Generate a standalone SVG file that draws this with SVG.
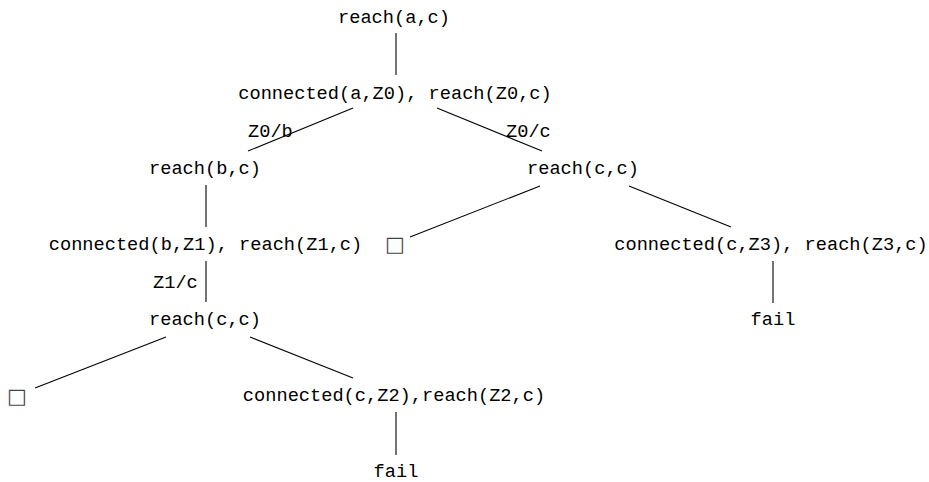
<svg xmlns="http://www.w3.org/2000/svg" width="929" height="482" viewBox="0 0 929 482">
<style>
.t{font-family:"Liberation Mono","DejaVu Sans Mono",monospace;font-size:18.67px;fill:#000;text-anchor:middle}
.l{font-family:"Liberation Mono","DejaVu Sans Mono",monospace;font-size:18.67px;fill:#000}
.b{font-family:"DejaVu Sans","Liberation Sans",sans-serif;font-size:21px;fill:#444;text-anchor:middle}
.e line{stroke:#000;stroke-width:1.1}
</style>
<rect width="929" height="482" fill="#fff"/>
<g class="e" id="edges">
<line x1="396" y1="33" x2="396" y2="75"/>
<line x1="353" y1="108" x2="248" y2="151"/>
<line x1="437" y1="108" x2="542" y2="151"/>
<line x1="206" y1="185" x2="206" y2="227"/>
<line x1="540" y1="186" x2="410" y2="237"/>
<line x1="629" y1="186" x2="731" y2="227"/>
<line x1="206" y1="261" x2="206" y2="302"/>
<line x1="773" y1="261" x2="773" y2="303"/>
<line x1="166" y1="337" x2="35" y2="388"/>
<line x1="250" y1="337" x2="353" y2="378"/>
<line x1="396" y1="412" x2="396" y2="455"/>
</g>
<g id="n0"><text class="t" x="394" y="23">reach(a,c)</text></g>
<g id="n1"><text class="t" x="395" y="99">connected(a,Z0), reach(Z0,c)</text></g>
<g id="lab1"><text class="l" x="248" y="137">Z0/b</text></g>
<g id="lab2"><text class="l" x="506" y="137">Z0/c</text></g>
<g id="n2"><text class="t" x="205" y="174">reach(b,c)</text></g>
<g id="n3"><text class="t" x="583" y="174">reach(c,c)</text></g>
<g id="n4"><text class="t" x="205.5" y="250">connected(b,Z1), reach(Z1,c)</text></g>
<g id="n5"><text class="b" x="395" y="251">□&#xFE0E;</text></g>
<g id="n6"><text class="t" x="771" y="250">connected(c,Z3), reach(Z3,c)</text></g>
<g id="lab3"><text class="l" x="153" y="288">Z1/c</text></g>
<g id="n7"><text class="t" x="205" y="325">reach(c,c)</text></g>
<g id="n8"><text class="t" x="773" y="325">fail</text></g>
<g id="n9"><text class="b" x="17" y="403">□&#xFE0E;</text></g>
<g id="n10"><text class="t" x="394" y="401">connected(c,Z2),reach(Z2,c)</text></g>
<g id="n11"><text class="t" x="396" y="477">fail</text></g>
</svg>
